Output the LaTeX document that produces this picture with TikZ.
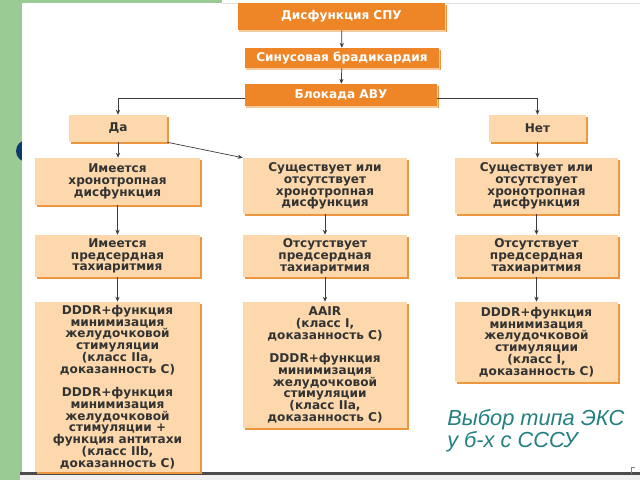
\documentclass[tikz,border=0pt]{standalone}
\usepackage{fontspec}
\setmainfont{Liberation Sans}
\newfontfamily\boxfont{DejaVu Sans}
\usetikzlibrary{arrows.meta,shadows}

\definecolor{slidegreen}{RGB}{155,203,148}
\definecolor{boxorange}{RGB}{238,134,40}
\definecolor{boxpeach}{RGB}{252,216,172}
\definecolor{peachshade}{RGB}{236,150,62}
\definecolor{titleteal}{RGB}{34,128,128}
\definecolor{bulletblue}{RGB}{12,58,112}
\definecolor{linegray}{RGB}{60,60,60}

\newlength\pxu
\setlength\pxu{0.025cm}

\begin{document}
\begin{tikzpicture}[x=0.025cm, y=-0.025cm
        , box/.style={ fill=boxpeach, inner sep=1pt, align=center, text=black!80,
            font=\boxfont\bfseries\fontsize{8.6}{8.4}\selectfont,
            general shadow={fill=peachshade, shadow xshift=1.2pt, shadow yshift=-1.6pt} }
        , topbox/.style={ box, fill=boxorange, text=white,
            general shadow={fill=boxorange!45, shadow xshift=1pt, shadow yshift=-1.2pt} }
        , arr/.style={ draw=linegray, line width=.5pt, -{Stealth[length=3.5pt,width=3pt]} }
        ]
        \useasboundingbox (0,0) rectangle (640,480);

        % slide background
        \fill[slidegreen] (0,0) rectangle (640,480);
        \fill[bulletblue] (27,151) circle (11);
        \fill[white] (22,3) rectangle (640,472);
        \fill[white] (222,0) rectangle (640,3);
        \draw[black!12] (222,3) -- (640,3);
        \fill[black!70] (20,472) rectangle (640,475);
        \fill[black!6] (20,475) rectangle (640,480);
        \draw[black!50, line width=.6pt] (631,474) -- (631,467) -- (635,467);

        \node[topbox, minimum width=207\pxu, minimum height=27\pxu] (spu) at (341.5,16.5) {Дисфункция СПУ};
        \node[topbox, minimum width=194\pxu, minimum height=20\pxu] (brad) at (342,58) {Синусовая брадикардия};
        \node[topbox, minimum width=192\pxu, minimum height=22\pxu] (avu) at (341,95) {Блокада АВУ};

        \node[box, minimum width=98\pxu, minimum height=27\pxu] (da) at (118,128.5) {Да};
        \node[box, minimum width=97\pxu, minimum height=27\pxu] (net) at (537.5,128.5) {Нет};

        \node[box, minimum width=165\pxu, minimum height=47\pxu] (hronL) at (117.5,181.5)
            {Имеется\\хронотропная\\дисфункция};
        \node[box, minimum width=164\pxu, minimum height=56\pxu] (hronM) at (325,186)
            {Существует или\\отсутствует\\хронотропная\\дисфункция};
        \node[box, minimum width=163\pxu, minimum height=56\pxu] (hronR) at (536.5,186)
            {Существует или\\отсутствует\\хронотропная\\дисфункция};

        \node[box, minimum width=165\pxu, minimum height=42\pxu] (tahL) at (117.5,256)
            {Имеется\\предсердная\\тахиаритмия};
        \node[box, minimum width=164\pxu, minimum height=42\pxu] (tahM) at (325,256)
            {Отсутствует\\предсердная\\тахиаритмия};
        \node[box, minimum width=163\pxu, minimum height=42\pxu] (tahR) at (536.5,256)
            {Отсутствует\\предсердная\\тахиаритмия};

        \node[box, minimum width=165\pxu, minimum height=170\pxu] (ekcL) at (117.5,387)
            {DDDR+функция\\минимизация\\желудочковой\\стимуляции\\(класс IIa,\\доказанность С)\\[8pt]
             DDDR+функция\\минимизация\\желудочковой\\стимуляции +\\функция антитахи\\(класс IIb,\\доказанность С)};
        \node[box, minimum width=164\pxu, minimum height=126\pxu] (ekcM) at (325,365)
            {AAIR\\(класс I,\\доказанность С)\\[8pt]
             DDDR+функция\\минимизация\\желудочковой\\стимуляции\\(класс IIa,\\доказанность С)};
        \node[box, minimum width=163\pxu, minimum height=80\pxu] (ekcR) at (536.5,342)
            {DDDR+функция\\минимизация\\желудочковой\\стимуляции\\(класс I,\\доказанность С)};

        \node[anchor=north west, align=left, inner sep=0pt, text=titleteal,
            font=\itshape\fontsize{15.5}{15.6}\selectfont] (title) at (447,409)
            {Выбор типа ЭКС\\у б-х с СССУ};

        \draw[arr] (spu) -- (brad);
        \draw[arr] (brad) -- (avu);
        \draw[arr] ([yshift=-3\pxu]avu.west) -| (da.north);
        \draw[arr] ([yshift=-3\pxu]avu.east) -| (net.north);

        \draw[arr] (da.south) -- (da.south |- hronL.north);
        \draw[arr] (da.south east) -- (hronM.north west);
        \draw[arr] (net.south) -- (net.south |- hronR.north);

        \foreach \c in {L,M,R} {
            \draw[arr] (hron\c.south) -- (tah\c.north);
            \draw[arr] (tah\c.south) -- (ekc\c.north);
        }

    \end{tikzpicture}
\end{document}
